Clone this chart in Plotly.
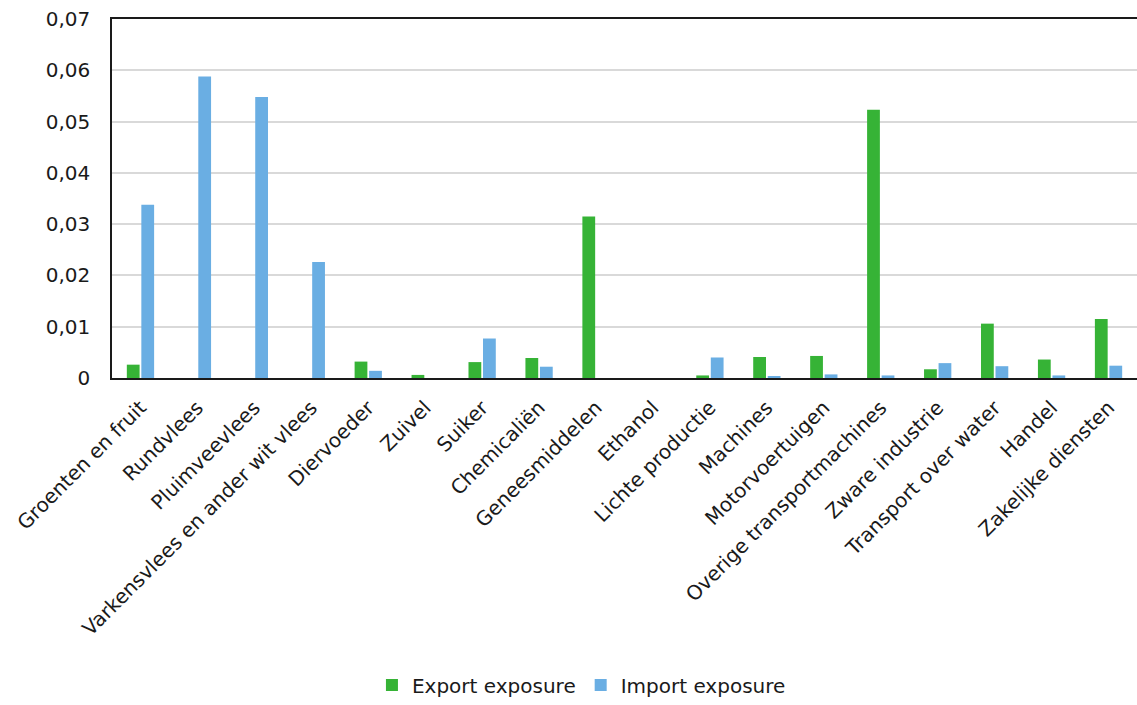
import plotly.graph_objects as go

categories = ["Groenten en fruit", "Rundvlees", "Pluimveevlees", "Varkensvlees en ander wit vlees",
              "Diervoeder", "Zuivel", "Suiker", "Chemicaliën", "Geneesmiddelen", "Ethanol",
              "Lichte productie", "Machines", "Motorvoertuigen", "Overige transportmachines",
              "Zware industrie", "Transport over water", "Handel", "Zakelijke diensten"]
export_exposure = [0.0026, 0.0, 0.0, 0.0, 0.0032, 0.0006, 0.0031, 0.0039, 0.0315, 0.0,
                   0.0005, 0.0041, 0.0043, 0.0523, 0.0017, 0.0106, 0.0036, 0.0115]
import_exposure = [0.0338, 0.0588, 0.0548, 0.0226, 0.0014, 0.0, 0.0077, 0.0022, 0.0, 0.0,
                   0.0040, 0.0003, 0.0007, 0.0005, 0.0029, 0.0023, 0.0005, 0.0024]
tick_vals = [0, 0.01, 0.02, 0.03, 0.04, 0.05, 0.06, 0.07]
tick_text = ["0", "0,01", "0,02", "0,03", "0,04", "0,05", "0,06", "0,07"]

fig = go.Figure()
fig.add_trace(go.Bar(x=categories, y=export_exposure, name="Export exposure",
                     marker=dict(color="#36B336", line=dict(width=0))))
fig.add_trace(go.Bar(x=categories, y=import_exposure, name="Import exposure",
                     marker=dict(color="#6AAEE3", line=dict(width=0))))

fig.update_layout(
    width=1137, height=705,
    margin=dict(l=112, r=0, t=19, b=315),
    paper_bgcolor="white", plot_bgcolor="white",
    font=dict(family="DejaVu Sans", size=20, color="#1a1a1a"),
    barmode="group", bargap=0.49, bargroupgap=0.12,
    separators=", ",
    legend=dict(orientation="h", x=0.458, xanchor="center", y=-0.855, yanchor="middle",
                font=dict(size=20), itemwidth=30, traceorder="normal"),
    xaxis=dict(tickangle=-45, showline=True, linecolor="#1a1a1a", linewidth=2, mirror=True,
               ticks="", showgrid=False, tickfont=dict(size=20), ticklabelstandoff=8),
    yaxis=dict(range=[0, 0.07], tickvals=tick_vals, ticktext=tick_text,
               showline=True, linecolor="#1a1a1a", linewidth=1.5,
               gridcolor="#d9d9d9", gridwidth=1.5, ticks="", zeroline=False,
               tickfont=dict(size=20), ticklabelstandoff=16, ticklabeloverflow="allow"),
)

fig.write_html("out.html", config={"displayModeBar": False},
               post_script="document.body.style.margin='0';document.body.style.overflow='hidden';")
